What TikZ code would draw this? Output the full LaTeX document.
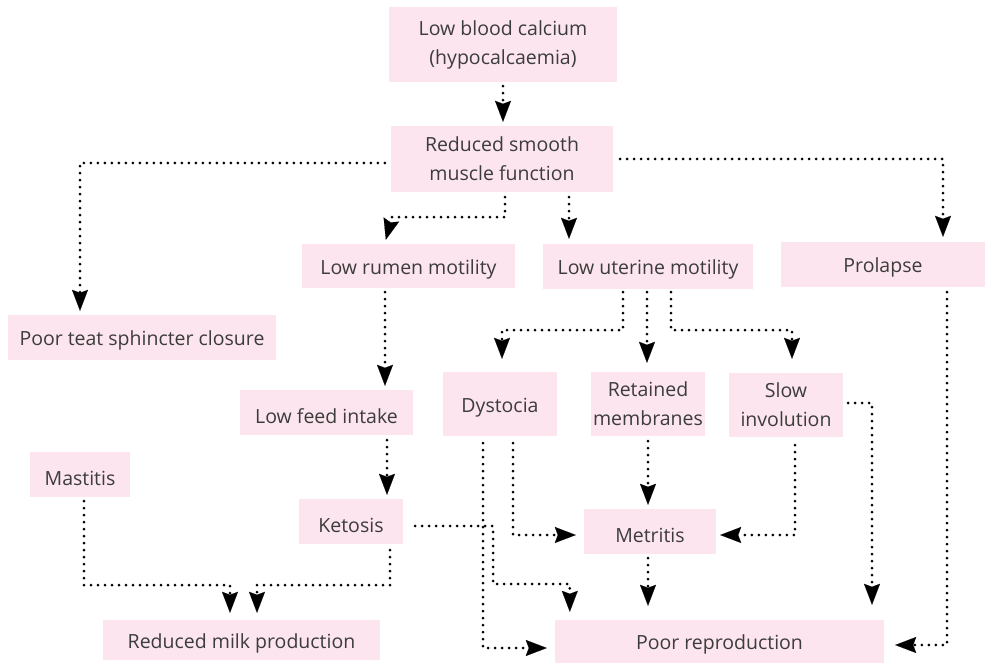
\documentclass[tikz,border=0pt]{standalone}
\usepackage{fontspec}
\setmainfont{Open Sans}
\usetikzlibrary{arrows.meta,calc}
\definecolor{boxpink}{HTML}{FCE5EE}
\definecolor{txtgrey}{HTML}{3C3C3C}
\tikzset{
  box/.style={fill=boxpink, draw=none, text=txtgrey, align=center, inner sep=0pt,
    font=\fontsize{19.5}{29}\selectfont, execute at begin node={\rule{0pt}{21.5pt}}},
  tipstyle/.tip={Stealth[length=21pt,width=16pt,inset=3pt,line width=0.1pt]},
  con/.style={draw=black, line width=3pt, line cap=round, dash pattern=on 0pt off 7pt,
    -tipstyle}
}
\begin{document}
\begin{tikzpicture}[x=1pt,y=-1pt]
\useasboundingbox (0,0) rectangle (985,663);
\fill[white] (0,0) rectangle (985,663);
% nodes
\node[box, minimum width=228, minimum height=75] (lbc) at (503,44.5) {Low blood calcium\\(hypocalcaemia)};
\node[box, minimum width=222, minimum height=66] (rsmf) at (502,159) {Reduced smooth\\muscle function};
\node[box, minimum width=213, minimum height=44] (rumen) at (408.5,266) {Low rumen motility};
\node[box, minimum width=210, minimum height=45] (uter) at (648,266.5) {Low uterine motility};
\node[box, minimum width=204, minimum height=45] (prol) at (883,264.5) {Prolapse};
\node[box, minimum width=268, minimum height=45] (teat) at (142,337.5) {Poor teat sphincter closure};
\node[box, minimum width=173, minimum height=45] (feed) at (326.5,412.5) {Low feed intake};
\node[box, minimum width=114, minimum height=64] (dyst) at (500,404) {Dystocia};
\node[box, minimum width=114, minimum height=64] (ret) at (648,404) {Retained\\membranes};
\node[box, minimum width=114, minimum height=64] (slow) at (786,405) {Slow\\involution};
\node[box, minimum width=100, minimum height=45] (mast) at (80,474.5) {Mastitis};
\node[box, minimum width=104, minimum height=45] (ket) at (351,521.5) {Ketosis};
\node[box, minimum width=132, minimum height=45] (metr) at (650,531.5) {Metritis};
\node[box, minimum width=277, minimum height=40] (rmp) at (241.5,640) {Reduced milk production};
\node[box, minimum width=329, minimum height=43] (prep) at (719.5,641.5) {Poor reproduction};
% connectors
\draw[con] ($(lbc.south)+(0,4)$) -- ($(rsmf.north)+(1,-4)$);
\draw[con] ($(rsmf.west)+(-6,4)$) -| ($(teat.north)+(-62,-4)$);
\draw[con] ($(rsmf.east)+(7,0)$) -| ($(prol.north)+(60,-5)$);
\draw[con] ($(rsmf.south)+(3,5)$) -- ++(0,20) -- ++(-113,0) -- ($(rumen.north west)+(84,-4)$);
\draw[con] ($(rsmf.south)+(67,5)$) -- ($(uter.north)+(-79,-5)$);
\draw[con] ($(rumen.south)+(-23.5,4)$) -- ($(feed.north)+(58.5,-4)$);
\draw[con] ($(feed.south)+(60.5,5)$) -- ($(ket.north)+(36,-4)$);
\draw[con] ($(uter.south)+(-25,3)$) -- ++(0,38) -| ($(dyst.north)+(2,-13)$);
\draw[con] ($(uter.south)+(-1,3)$) -- ($(ret.north)+(-1,-9)$);
\draw[con] ($(uter.south)+(23,3)$) -- ++(0,38) -| ($(slow.north)+(6,-14)$);
\draw[con] ($(ret.south)+(0,5)$) -- ($(metr.north)+(-2,-4)$);
\draw[con] ($(metr.south)+(-2,4)$) -- ($(prep.north)+(-71.5,-14)$);
\draw[con] ($(slow.south)+(9,8)$) |- ($(metr.east)+(4,3.5)$);
\draw[con] ($(slow.east)+(5,-2)$) -| ($(prep.north)+(152.5,-15)$);
\draw[con] ($(prol.south)+(64,5)$) |- ($(prep.east)+(11,3.5)$);
\draw[con] ($(dyst.south)+(13,7)$) |- ($(metr.west)+(-8,3.5)$);
\draw[con] ($(dyst.south)+(-17,7)$) |- ($(prep.west)+(-8,6.5)$);
\draw[con] ($(ket.east)+(12,4.5)$) -- ++(78,0) -- ++(0,58) -| ($(prep.north west)+(15,-8)$);
\draw[con] ($(mast.south)+(4,4)$) -- ++(0,84) -| ($(rmp.north)+(-11.5,-7)$);
\draw[con] ($(ket.south)+(39,6)$) -- ++(0,35) -| ($(rmp.north)+(15.5,-7)$);
\end{tikzpicture}
\end{document}
